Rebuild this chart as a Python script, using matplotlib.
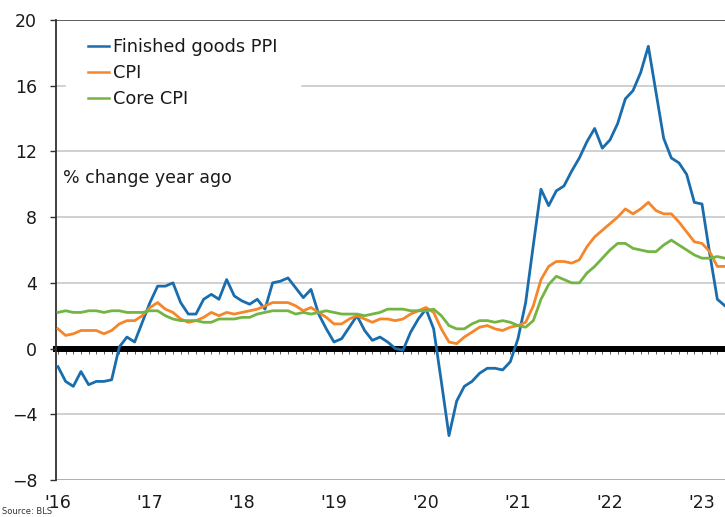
import numpy as np
import matplotlib
matplotlib.use("Agg")
import matplotlib.pyplot as plt

# monthly, Jan 2016 .. Apr 2023 (% change year ago)
ppi = [-1.1, -2.0, -2.3, -1.4, -2.2, -2.0, -2.0, -1.9, 0.1, 0.7, 0.4, 1.6,
       2.8, 3.8, 3.8, 4.0, 2.8, 2.1, 2.1, 3.0, 3.3, 3.0, 4.2, 3.2,
       2.9, 2.7, 3.0, 2.4, 4.0, 4.1, 4.3, 3.7, 3.1, 3.6, 2.1, 1.2,
       0.4, 0.6, 1.3, 2.0, 1.1, 0.5, 0.7, 0.4, 0.0, -0.1, 1.0, 1.8,
       2.4, 1.2, -2.0, -5.3, -3.2, -2.3, -2.0, -1.5, -1.2, -1.2, -1.3, -0.8,
       0.6, 2.8, 6.3, 9.7, 8.7, 9.6, 9.9, 10.8, 11.6, 12.6, 13.4, 12.2,
       12.7, 13.7, 15.2, 15.7, 16.8, 18.4, 15.6, 12.8, 11.6, 11.3, 10.6, 8.9,
       8.8, 5.8, 3.0, 2.6]
cpi = [1.2, 0.8, 0.9, 1.1, 1.1, 1.1, 0.9, 1.1, 1.5, 1.7, 1.7, 2.0,
       2.5, 2.8, 2.4, 2.2, 1.8, 1.6, 1.7, 1.9, 2.2, 2.0, 2.2, 2.1,
       2.2, 2.3, 2.4, 2.6, 2.8, 2.8, 2.8, 2.6, 2.3, 2.5, 2.2, 1.9,
       1.5, 1.5, 1.8, 2.0, 1.8, 1.6, 1.8, 1.8, 1.7, 1.8, 2.1, 2.3,
       2.5, 2.2, 1.2, 0.4, 0.3, 0.7, 1.0, 1.3, 1.4, 1.2, 1.1, 1.3,
       1.4, 1.6, 2.6, 4.2, 5.0, 5.3, 5.3, 5.2, 5.4, 6.2, 6.8, 7.2,
       7.6, 8.0, 8.5, 8.2, 8.5, 8.9, 8.4, 8.2, 8.2, 7.7, 7.1, 6.5,
       6.4, 5.9, 5.0, 5.0]
core = [2.2, 2.3, 2.2, 2.2, 2.3, 2.3, 2.2, 2.3, 2.3, 2.2, 2.2, 2.2,
        2.3, 2.3, 2.0, 1.8, 1.7, 1.7, 1.7, 1.6, 1.6, 1.8, 1.8, 1.8,
        1.9, 1.9, 2.1, 2.2, 2.3, 2.3, 2.3, 2.1, 2.2, 2.1, 2.2, 2.3,
        2.2, 2.1, 2.1, 2.1, 2.0, 2.1, 2.2, 2.4, 2.4, 2.4, 2.3, 2.3,
        2.3, 2.4, 2.0, 1.4, 1.2, 1.2, 1.5, 1.7, 1.7, 1.6, 1.7, 1.6,
        1.4, 1.3, 1.7, 3.0, 3.9, 4.4, 4.2, 4.0, 4.0, 4.6, 5.0, 5.5,
        6.0, 6.4, 6.4, 6.1, 6.0, 5.9, 5.9, 6.3, 6.6, 6.3, 6.0, 5.7,
        5.5, 5.5, 5.6, 5.5]
year_labels = ["'16", "'17", "'18", "'19", "'20", "'21", "'22", "'23"]

months = np.arange(len(ppi))

fig = plt.figure(figsize=(7.25, 5.17), dpi=100)
ax = fig.add_axes([0.0772, 0.0716, 0.9228, 0.8897])

ymin, ymax = -8, 20
ax.set_ylim(ymin, ymax)
ax.set_xlim(-0.26, 87.0)

ax.set_yticks(np.arange(-8, 21, 4))
for v in [-4, 4, 8, 12]:
    ax.axhline(v, color="#c4c4c4", lw=1.1, zorder=0)
# 16 gridline is interrupted behind the legend
ax.axhline(16, xmax=0.014, color="#c4c4c4", lw=1.1, zorder=0)
ax.axhline(16, xmin=0.368, color="#c4c4c4", lw=1.1, zorder=0)

ax.plot(months, ppi, color="#1a6dad", lw=2.0, label="Finished goods PPI", zorder=3)
ax.plot(months, cpi, color="#f5862a", lw=2.0, label="CPI", zorder=3)
ax.plot(months, core, color="#73b443", lw=2.0, label="Core CPI", zorder=3)

# spines
for s in ["top", "bottom", "right"]:
    ax.spines[s].set_visible(False)
ax.axhline(ymax, color="#505050", lw=1.3, zorder=1)
ax.axhline(ymin, color="#9a9a9a", lw=1.1, zorder=1)
ax.spines["left"].set_color("#303030")
ax.spines["left"].set_linewidth(1.3)

ax.tick_params(axis="y", direction="out", length=4.5, width=1, color="#303030",
               pad=9, labelsize=12.5, labelcolor="#1a1a1a")

ax.set_xticks(np.arange(0, 85, 12))
ax.set_xticklabels(year_labels)
ax.tick_params(axis="x", length=0, pad=10, labelsize=12.5, labelcolor="#1a1a1a")

# zero line with small monthly ticks
sec = ax.secondary_xaxis((0 - ymin) / (ymax - ymin))
sec.spines["bottom"].set_linewidth(4.3)
sec.spines["bottom"].set_color("black")
sec.set_xticks(np.arange(0, 88, 1))
sec.set_xticklabels([])
sec.tick_params(axis="x", direction="out", length=3.4, width=0.6, color="#404040")

leg = ax.legend(loc="upper left", bbox_to_anchor=(0.048, 0.96), frameon=False,
                fontsize=12.8, handlelength=1.2, handletextpad=0.2,
                labelspacing=0.45, borderpad=0.0, borderaxespad=0.0)
for t in leg.get_texts():
    t.set_color("#1a1a1a")
for h in leg.get_lines():
    h.set_linewidth(1.8)

ax.text(0.011, 0.6565, "% change year ago", transform=ax.transAxes,
        fontsize=12.5, color="#1a1a1a", va="center", ha="left")

fig.text(0.003, 0.001, "Source: BLS", fontsize=6, color="#333333", va="bottom", ha="left")

fig.savefig("out.png", dpi=100)
